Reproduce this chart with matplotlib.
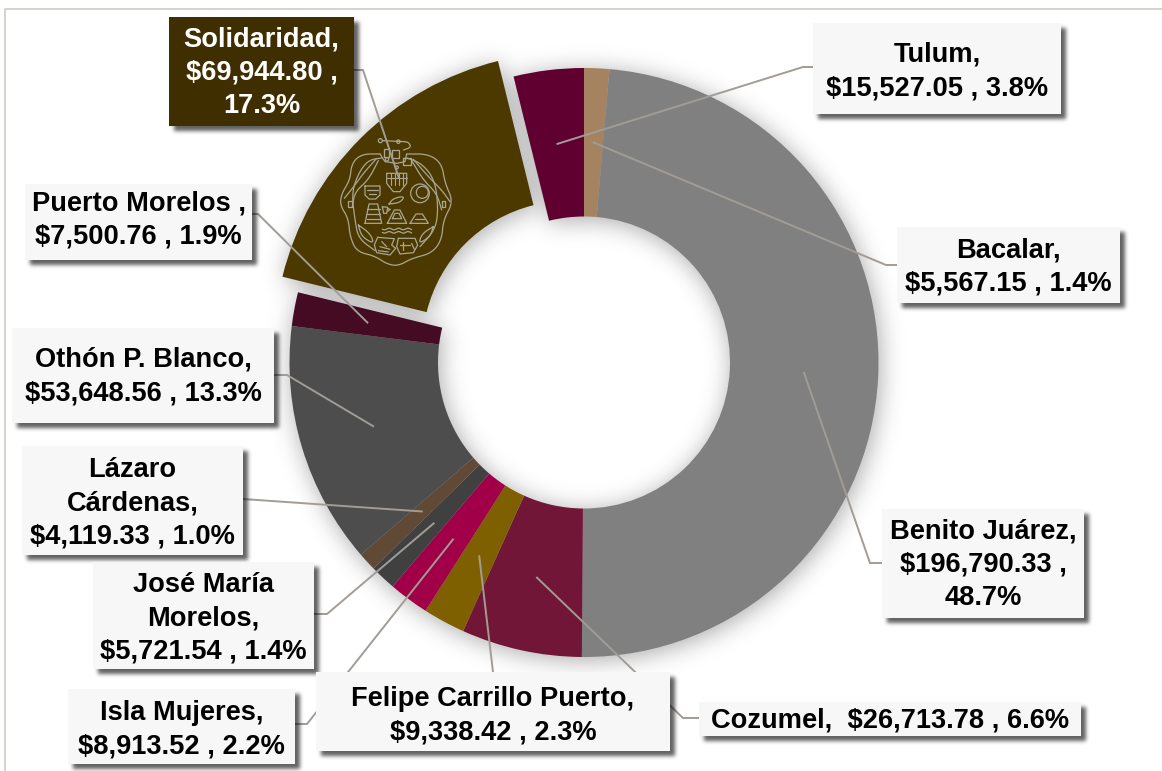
import numpy as np
import matplotlib
matplotlib.use("Agg")
import matplotlib.pyplot as plt
from matplotlib.patches import Rectangle, Circle

W, H = 1162, 771

names = ["Bacalar", "Benito Juárez", "Cozumel", "Felipe Carrillo Puerto", "Isla Mujeres",
         "José María Morelos", "Lázaro Cárdenas", "Othón P. Blanco", "Puerto Morelos",
         "Solidaridad", "Tulum"]
values = [5567.15, 196790.33, 26713.78, 9338.42, 8913.52, 5721.54, 4119.33, 53648.56,
          7500.76, 69944.80, 15527.05]
colors = ["#a58360", "#808080", "#711636", "#7f6000", "#a10048", "#404040", "#604a35",
          "#4d4d4d", "#450b22", "#4c3900", "#600030"]
explode = [0, 0, 0, 0, 0, 0, 0, 0, 0, 22, 0]
labels = ["Bacalar,\n$5,567.15 , 1.4%", "Benito Juárez,\n$196,790.33 ,\n48.7%",
          "Cozumel,  $26,713.78 , 6.6%", "Felipe Carrillo Puerto,\n$9,338.42 , 2.3%",
          "Isla Mujeres,\n$8,913.52 , 2.2%", "José María\nMorelos,\n$5,721.54 , 1.4%",
          "Lázaro\nCárdenas,\n$4,119.33 , 1.0%", "Othón P. Blanco,\n$53,648.56 , 13.3%",
          "Puerto Morelos ,\n$7,500.76 , 1.9%", "Solidaridad,\n$69,944.80 ,\n17.3%",
          "Tulum,\n$15,527.05 , 3.8%"]

# layout (pixels in reference image, y downward): label boxes x0, y0, x1, y1
boxes = [(897, 227, 1120, 303), (882, 509, 1084, 618), (699, 702, 1081, 736),
         (316, 672, 670, 751), (68, 689, 295, 764), (93, 562, 314, 669),
         (22, 446, 243, 555), (12, 328, 274, 423), (25, 184, 252, 260),
         (169, 17, 354, 126), (813, 23, 1061, 114)]
text_dy = [2, 1.5, 2, 4, 3, 3, 3, 1, -2, 1, 3]
# leader path from the box: start, elbow
leaders = [((897, 265), (886, 265)), ((882, 563), (870, 563)), ((699, 718), (683, 718)),
           ((493, 672), (493, 672)), ((295, 724), (307, 724)), ((314, 614), (327, 614)),
           ((243, 499), (243, 499)), ((274, 375), (287, 375)), ((252, 214), (258, 214)),
           ((354, 70), (363, 70)), ((813, 67), (803, 67))]

CX, CY, R, RIN = 584, 362.5, 294.5, 146

def Y(y):
    return H - y

def blur(a, sigma):
    pad = int(4 * sigma)
    b = np.pad(a, pad)
    ky = np.fft.fftfreq(b.shape[0])[:, None]
    kx = np.fft.rfftfreq(b.shape[1])[None, :]
    g = np.exp(-2 * (np.pi * sigma) ** 2 * (kx ** 2 + ky ** 2))
    out = np.fft.irfft2(np.fft.rfft2(b) * g, s=b.shape)
    return out[pad:-pad, pad:-pad]

def shadow(ax, mask, sigma, alpha, zorder):
    s = np.clip(blur(mask, sigma), 0, 1) * alpha
    rgba = np.zeros(s.shape + (4,))
    rgba[..., 3] = s
    ax.imshow(rgba, extent=(0, W, 0, H), origin="upper", zorder=zorder,
              interpolation="bilinear", aspect="auto")

fig = plt.figure(figsize=(W / 100, H / 100), dpi=100)
ax = fig.add_axes([0, 0, 1, 1])

total = sum(values)
fracs = np.array(values) / total
starts = 90 - 360 * np.concatenate([[0], np.cumsum(fracs)[:-1]])
mids = starts - 180 * fracs

# soft shadow behind the ring, rasterised from the same slice geometry
yy, xx = np.mgrid[0:H, 0:W] + 0.5
ring = np.zeros((H, W))
for f, s, e, m in zip(fracs, starts, explode, mids):
    ox = CX + 2 + e * np.cos(np.radians(m))
    oy = CY + 3 - e * np.sin(np.radians(m))
    dx, dy = xx - ox, oy - yy
    rad = np.hypot(dx, dy)
    ang = (s - np.degrees(np.arctan2(dy, dx))) % 360
    ring[(rad <= R) & (rad >= RIN) & (ang <= 360 * f)] = 1
shadow(ax, ring, 12, 0.34, 2)

# soft shadow of the label boxes
bm = np.zeros((H, W))
for x0, y0, x1, y1 in boxes:
    bm[y0 + 5:y1 + 5, x0 + 5:x1 + 5] = 1
shadow(ax, bm, 2.0, 0.62, 5.5)

wedges, _ = ax.pie(values, colors=colors, explode=explode, startangle=90, counterclock=False,
                   center=(CX, Y(CY)), radius=R, frame=True,
                   wedgeprops=dict(width=R - RIN, linewidth=0, zorder=3))
ax.set_xlim(0, W)
ax.set_ylim(0, H)
ax.set_aspect("auto")
ax.axis("off")

# outer frame
ax.plot([5, 5, W], [0, Y(9), Y(9)], color="#d6d3ce", lw=1.4, zorder=1)

# emblem on the Solidaridad slice (drawn in crop coordinates, 3x)
EC = "#aaa595"
def P(x, y):
    return (335 + x / 3, Y(130 + y / 3))
def smooth(pts, n=3, closed=False):
    p = np.array(pts, float)
    for _ in range(n):
        if closed:
            q = np.roll(p, -1, axis=0)
            p = np.stack([0.75 * p + 0.25 * q, 0.25 * p + 0.75 * q], 1).reshape(-1, 2)
        else:
            q = p[1:]
            r = p[:-1]
            mid = np.stack([0.75 * r + 0.25 * q, 0.25 * r + 0.75 * q], 1).reshape(-1, 2)
            p = np.vstack([p[0], mid, p[-1]])
    return [tuple(v) for v in p]
def pl(pts, lw=0.9, closed=False):
    xy = [P(*p) for p in pts]
    if closed:
        xy.append(xy[0])
    ax.plot(*zip(*xy), color=EC, lw=lw, zorder=4, solid_capstyle="round")
def cv(pts, lw=0.9, closed=False):
    pl(smooth(pts, closed=closed), lw=lw, closed=closed)
def ci(x, y, r):
    ax.add_patch(Circle(P(x, y), r / 3, fill=False, ec=EC, lw=0.9, zorder=4))

# serpents
cv([(135, 72), (80, 72), (50, 100), (45, 150), (20, 190), (15, 225), (40, 265), (45, 320),
    (65, 365), (120, 378), (155, 402), (190, 408), (230, 385), (290, 370), (320, 330),
    (325, 270), (355, 215), (330, 160), (320, 100), (280, 72), (215, 72)])
cv([(140, 84), (100, 90), (70, 130), (50, 190), (60, 270), (70, 325), (120, 362)])
cv([(215, 84), (260, 100), (300, 150), (310, 240), (300, 300), (255, 350)])
cv([(125, 85), (85, 130), (60, 165), (28, 205)])
cv([(130, 92), (100, 150), (60, 185), (52, 230)])
cv([(235, 88), (280, 140), (320, 180), (345, 215)])
cv([(232, 95), (265, 150), (305, 190), (320, 240)])
cv([(70, 285), (80, 320), (118, 342), (105, 310), (70, 285)])
cv([(295, 290), (285, 320), (250, 342), (262, 310), (295, 290)])
pl([(40, 212), (50, 212), (50, 232), (40, 232)], closed=True)
pl([(320, 212), (330, 212), (330, 232), (320, 232)], closed=True)
# top glyphs
ci(136, 32, 6); ci(190, 35, 5); ci(156, 88, 5); ci(186, 112, 4)
pl([(142, 32), (210, 35)])
cv([(210, 35), (222, 38), (228, 52), (205, 60)])
pl([(148, 58), (162, 58), (162, 82), (148, 82)], closed=True)
pl([(170, 60), (192, 60), (192, 85), (170, 85)], closed=True)
pl([(205, 85), (228, 85), (228, 105), (205, 105)], closed=True)
pl([(135, 72), (150, 95), (185, 100), (210, 95), (215, 72)])
# central mask
pl([(155, 130), (215, 130), (215, 160), (195, 185), (175, 185), (155, 160)], closed=True)
for x in (168, 180, 192, 204):
    pl([(x, 130), (x, 165)], lw=0.8)
pl([(155, 145), (215, 145)], lw=0.8)
# moon
ci(255, 190, 28); ci(262, 187, 18)
# head and stepped pyramid
pl([(90, 168), (135, 168), (135, 195), (122, 207), (102, 207), (90, 195)], closed=True)
pl([(96, 180), (128, 180)]); pl([(102, 192), (122, 192)])
pl([(90, 280), (140, 280), (128, 222), (102, 222)], closed=True)
for yv in (238, 252, 266):
    pl([(95, yv), (135, yv)])
# leaf and cup
cv([(162, 222), (175, 205), (210, 198), (195, 218), (162, 222)])
pl([(142, 230), (158, 232), (155, 250), (146, 250)], closed=True)
pl([(158, 236), (166, 238), (158, 244)])
# pyramids
pl([(157, 280), (215, 280), (195, 240), (178, 240)], closed=True)
pl([(172, 266), (200, 266), (192, 250), (180, 250)], closed=True)
pl([(225, 280), (280, 280), (262, 252), (243, 252)], closed=True)
pl([(240, 268), (266, 268)])
# waves
for yv in (297, 307):
    xs = np.arange(142, 232, 4)
    pl(list(zip(xs, yv + 2.5 * np.sin(xs / 4.5))))
# bottom glyphs
pl([(128, 322), (178, 326), (170, 345), (182, 355), (165, 375), (125, 368), (118, 345)], closed=True)
pl([(135, 350), (165, 358)]); pl([(130, 362), (160, 366)]); pl([(140, 335), (155, 350)])
pl([(190, 325), (240, 325), (248, 345), (235, 368), (195, 372), (185, 350)], closed=True)
pl([(205, 335), (205, 360)]); pl([(195, 345), (225, 345)]); pl([(230, 340), (238, 358)])

# leader lines end at the mid radius of each slice
RM = (R + RIN) / 2
for m, e, (a, b) in zip(mids, explode, leaders):
    ex = CX + (RM + 1.9 * e) * np.cos(np.radians(m))
    ey = Y(CY) + (RM + 1.9 * e) * np.sin(np.radians(m))
    ax.plot([a[0], b[0], ex], [Y(a[1]), Y(b[1]), ey], color="#a29c96", lw=1.4, zorder=5,
            solid_joinstyle="miter")

# label boxes
for i, (lab, (x0, y0, x1, y1)) in enumerate(zip(labels, boxes)):
    dark = names[i] == "Solidaridad"
    ax.add_patch(Rectangle((x0, Y(y1)), x1 - x0, y1 - y0, fc="#3f2f00" if dark else "#f7f7f7",
                           lw=0, zorder=6))
    ax.text((x0 + x1) / 2, Y((y0 + y1) / 2 + text_dy[i]), lab, ha="center", va="center",
            multialignment="center", family="Liberation Sans", weight="bold", fontsize=19.6,
            linespacing=1.36, color="white" if dark else "black", zorder=7)

fig.savefig("out.png", dpi=100, facecolor="white")
